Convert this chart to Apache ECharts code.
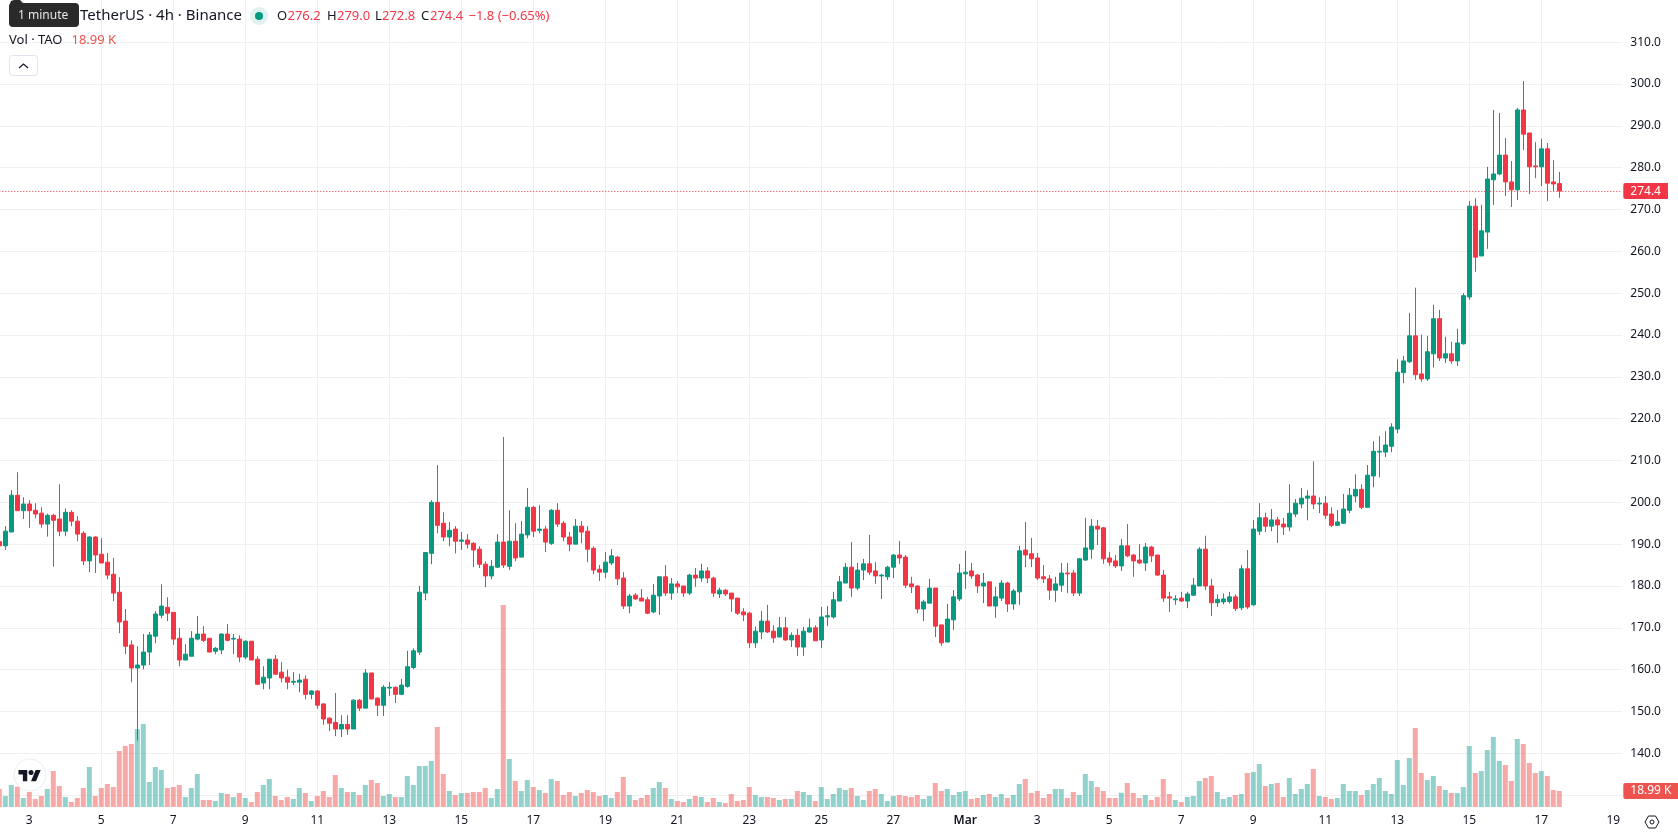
<!DOCTYPE html>
<html>
<head>
<meta charset="utf-8">
<title>TAO / TetherUS 4h</title>
<script src="https://cdn.jsdelivr.net/npm/echarts@6/dist/echarts.min.js"></script>
<style>
html,body{margin:0;padding:0;background:#fff;overflow:hidden}
#chart{width:1678px;height:835px}
</style>
</head>
<body>
<div id="chart"></div>
<script>
// 4h candles, TAO / TetherUS on Binance, oldest first
const opens = [190.6,189.6,192.9,201.7,198,199.6,198.1,197.4,194.8,196.9,196,193.1,197.6,195.5,192.6,186,191.7,187.6,185.7,182.8,178.5,171.6,165.9,160.4,161.1,164.2,168,173,174.9,173.7,167.5,162.3,163.2,167.3,168.5,167.5,164.4,164.7,168.5,167.3,167.3,163,166.8,162.5,156.8,158,162.5,159.4,158.2,157,157,157.7,154.1,154.9,151.8,148.4,147.4,145.8,146.9,145.8,152.7,150.8,159.2,153.2,151.5,155.6,155.8,154.1,156,160.5,164.2,178.3,187.8,200,195,191.7,193.6,190.7,191,190.2,188.8,185.2,182.4,184.5,190.5,184.7,190.7,186.9,192.2,198.8,193.3,193.6,190.2,198.1,195,191.7,190,194.3,193.1,189,184,183.3,185.5,186.9,181.9,175.2,177.8,177.1,176.7,173.8,177.6,182.2,178.3,180.5,180,178.3,182.6,181.9,183.6,181.9,178.1,179,178.3,177.1,173.8,173.5,166.4,169,171.6,169.2,167.8,170,167.1,168.2,165.4,169,170,167.1,172.6,172.6,176.4,180.7,184.5,179.5,183.8,185.3,183.6,182.4,182.2,184.5,187.4,186.9,180.5,180,174.5,175.9,179.5,170.7,166.6,171.9,176.9,182.9,183.6,182.6,180,181,175.2,177.1,180.7,175.7,178.6,188.6,187.7,186.7,182.2,181.7,179,180.2,183.1,183.1,178.3,186.2,188.8,194.3,193.9,186.7,186,184.8,189.6,187.4,186.2,185.5,189.3,187.4,182.6,177.4,176.7,177.1,176.4,177.8,180,188.8,180,176,176.2,176.3,177.4,174.8,184.1,175.5,193.1,196.3,194.3,195.8,194.8,194.1,197.2,199.6,201,201.5,199.6,199.8,197.2,194.5,195,198.1,201.5,203.1,198.8,206.3,212,212,213.4,217.5,231,233.6,239.8,230.7,229.5,235.5,243.9,234.5,235.5,233.8,237.9,249.1,270.8,258.9,264.6,277.1,278.5,283,276.6,274.7,293.8,288.3,280.4,280.2,284.5,276.6,276.2];
const closes = [189.6,193.1,201.7,198,199.6,198,197.2,194.8,196.9,195.7,193.1,197.6,195.5,192.4,186,191.7,187.4,185.5,182.6,178.3,171.4,165.6,160.4,161.1,164.2,168.3,173.3,175.2,173.5,167.3,162.3,163.7,167.5,168.5,167,164.2,165.1,168.5,167,167.5,163,166.8,162.3,156.5,158.2,162.5,158.9,158,157,157.2,157.5,154.1,154.9,151.5,148.2,147.2,145.8,146.9,145.8,152.7,150.8,159.2,153,151.5,155.8,155.8,154.1,156.3,160.7,164.5,178.5,188,200,194.5,191.7,193.3,190.7,191,190,188.6,185.2,182.4,184.7,190.5,185,190.7,186.7,192.4,198.8,193.1,193.6,190.5,198.1,194.8,191.7,190,194.3,192.9,188.8,183.8,183.3,185.7,187.2,181.7,175.2,177.6,176.9,176.4,173.5,177.8,182.2,178.3,180.5,179.8,178.3,182.6,181.9,183.6,181.9,178.3,179,178.1,176.9,173.5,173.1,166.4,169.2,171.6,169,167.6,170,167.1,168.2,165.4,169.2,170,166.9,172.6,172.9,176.7,181,184.5,179.5,183.8,185.3,183.3,182.4,182.6,184.5,187.4,186.7,180.2,179.8,174.5,176.2,179.5,170.4,166.4,172.1,177.4,183.1,183.3,182.4,180,180.7,175.2,177.4,180.7,175.7,178.8,188.4,187.4,186.5,181.9,181.7,179,180.5,183.1,182.9,178.3,186.5,189.1,194.3,193.6,186.5,185.7,184.8,189.6,187.2,186,185.5,189.3,187.2,182.6,177.1,177.1,176.9,176.4,178.1,180.2,188.8,180,176,176.8,176.9,177.4,174.6,184.1,175,193.6,196.3,194.3,195.8,194.6,194.1,197.4,199.8,201,201.5,199.6,199.8,196.9,194.5,195.3,198.4,201.7,203.1,198.8,206.5,212.2,212.2,213.7,218,231.1,233.8,239.8,230.5,229.5,236,243.9,234.5,235.5,233.8,238.1,249.4,270.8,258.6,264.9,277.3,278.5,283,276.6,274.7,293.8,288,280.2,280.2,284.5,276.3,276.1,274.4];
const lows = [189.4,188.6,192.9,198,196,193.9,196.2,193.9,191.8,184.6,191.9,191.9,194.3,190.7,185,183.3,183.1,185.5,181.6,176.4,168.7,163.7,157,143.1,160.1,161.1,166.3,172.3,171.6,165.9,160.8,162.3,163.2,167,166.6,164.2,163.7,163.7,166.8,163.7,161.8,162.5,162.3,156.3,155.3,155.3,158.9,157,155.3,156.3,154.6,152.9,152.9,150.6,146.8,145.3,144.1,143.9,144.4,145.8,150.1,150.8,152.9,148.9,148.9,153.7,152,153.9,155.7,160.1,163.5,176.6,185.2,192.6,190.7,189.5,187.8,188.6,189,184.5,184.3,179.7,181.6,184.3,184.3,183.8,185.9,186.9,191.4,191.7,192.6,188.1,189.8,194.1,190.7,188.3,190,190.2,185.7,182.8,181.2,181.9,185,180.2,174.5,173.5,176.7,176.4,173.3,173.5,173.1,177.6,176.7,178.3,177.4,177.8,179.8,181,180.7,177.4,177.1,177.6,173.8,173.1,171.6,165.2,165.2,167.3,168.8,166.4,167.8,166.9,165.4,163.3,163.3,168.8,166.9,165.2,170.4,172.2,176.4,180.7,177.4,179,181.4,182.6,180.5,176.9,181.4,181.9,185.3,179.5,178.3,173.5,171.6,175.9,167.8,165.7,166.6,169.5,176.4,179.3,181.7,178.3,175.9,175.2,172.4,176.4,173.8,174.3,175.5,184.5,184.5,181.4,180.7,176.7,176.2,178.6,178.3,177.6,177.6,186,186.5,189.8,185.3,184.8,184.3,183.6,186.9,182.2,185.3,183.6,185.7,182.4,176.2,173.8,175.5,176.2,174.7,177.6,180,179,172.8,175,175.6,175.8,174,174.2,174.5,175.2,192.2,192.9,193.1,190.3,192.2,193.1,196.5,198.6,195.7,198.4,197.4,196,194.1,194.3,194.8,197.4,200,198.4,198.8,203.6,206,210.8,212,216.5,228.5,233.3,229.3,228.8,229,232.2,233.8,233.3,233.1,232.6,237.7,248.4,255.1,258.9,260.6,271.1,278.2,273.2,270.6,272.3,284.2,273.7,277.5,275.6,272,274.4,272.8];
const highs = [190.8,194.3,202.9,207.2,201.2,200.5,199.8,198.8,197.3,197.2,204.3,198.5,198.1,196.7,193.1,191.9,191.9,191.4,187.9,186.7,182.1,174.5,167,165.6,168.5,169,174,180.4,177.3,173.7,169.9,166.1,169.2,172.8,170.4,167.5,165.4,168.7,170.9,168.5,168.2,167,166.8,163.2,160.8,162.5,163.5,161.8,160,159.4,159,158.6,155.1,155.1,152,148.6,154.4,149.1,149.1,152.9,153,160.1,159.2,153.4,156.3,157,156,157.8,164.5,165.1,180,188,200.5,208.9,197.6,195.3,194.3,192.9,192.4,190.5,189.5,185.9,186.2,192.4,215.6,198.1,195,195.5,203.4,199.1,199.3,194.3,198.4,199.8,195.5,192.9,196,195.5,194.3,189.5,185,188.1,188.8,187.2,183.3,178.1,178.3,179.3,177.4,180.5,182.2,185,181.9,181.2,180,182.9,184.3,185.3,184.5,182.2,179.6,179.3,178.3,177.1,174.7,173.8,170.3,174,175.5,170.6,172.6,172.6,168.9,169.8,170.2,172.2,170.6,175,175.2,178.6,182.4,185.5,190.5,185.5,186.5,192.2,185.7,182.9,184.8,187.6,190.8,187.4,182.2,180.2,176.7,181.7,179.5,170.7,175.7,179,185.3,188.4,185.5,182.9,183.1,181,179.8,181.4,181,179.3,189.6,195.3,191.5,187.9,185,182.6,182.2,185.5,185.5,183.8,186.7,196.3,196,195.8,194.1,188.1,187.4,191.2,194.8,187.6,190,190.3,189.6,187.4,183.8,178.6,177.8,178.6,178.6,181.9,189.3,192,181.7,178,178.2,178.6,178,185,188.6,195.8,199.8,197.5,198.4,196.5,196.3,204.3,200.8,203.4,202.9,209.8,201.2,201.5,198.8,198.1,202,203.4,206.7,204.3,208.9,214.6,215.8,217,218.9,234.2,235,245.3,251.3,240.1,239.8,247.2,246,239.6,238.4,241.5,250,272,272.7,271.1,280.2,293.8,293.1,287.1,281.6,294.3,300.7,288.3,286.1,286.9,285.9,281.8,279];
// Traded volume per candle, in thousands of TAO
const volumes = [21.4,13.1,26.1,24.1,10.7,17.8,9.5,13.1,21.4,42.7,24.9,11.9,5.9,10.7,22.6,47.5,13.1,22.6,27.3,23.7,66.5,72.4,74.8,92.6,98.5,29.7,47.5,43.9,22.6,23.7,26.1,11.9,22.6,39.2,8.3,8.3,7.1,16.6,15.4,11.9,16.6,10.7,5.9,17.8,26.1,33.2,13.1,8.3,11.9,9.5,22.6,16.6,7.1,13.1,19,11.9,38,22.6,17.8,17.8,14.2,26.1,32.1,28.5,13.1,15.4,11.9,11.9,36.8,26.1,48.7,48.7,54.6,95,39.2,19,14.2,16.6,16.6,17.8,17.8,22.6,10.7,21.4,239.8,57,30.9,19,32.1,23.7,20.2,16.6,33.2,30.9,14.2,17.8,13.1,16.6,20.2,17.8,13.1,14.2,10.7,17.8,35.6,14.2,8.3,10.7,14.2,22.6,29.7,22.6,9.5,7.1,5.9,9.5,13.1,11.9,5.9,10.7,5.9,4.7,15.4,7.1,8.3,23.7,14.2,11.9,11.9,10.7,8.3,9.5,9.5,19,17.8,14.2,7.1,23.7,9.5,15.4,22.6,20.2,22.6,13.1,8.3,19,21.4,15.4,7.1,13.1,14.2,13.1,11.9,14.2,9.5,13.1,28.5,19,21.4,14.2,17.8,19,9.5,10.7,14.2,15.4,11.9,15.4,10.7,14.2,27.3,33.2,16.6,19,10.7,15.4,21.4,21.4,10.7,17.8,14.2,39.2,30.9,23.7,19,10.7,10.7,17,28.5,16.6,10.7,14.2,8.3,11.9,33.2,15.4,8.3,5.9,11.9,13.1,30.9,34.4,36.8,17.8,9.5,11.9,14.2,15.4,40.4,41.5,51,24.9,27.3,28.5,11.9,34.4,15.4,21.4,27.3,45.1,13.1,11.9,9.5,10.7,27.3,19,19,14.2,20.2,27.3,34.4,19,15.4,55.8,26.1,58.2,93.8,40.4,32.1,36.8,24.9,20.2,16.6,16.6,23.7,72.4,40.4,42.7,67.7,83.1,54.6,49.9,30.9,80.7,74.8,52.2,40.4,42.7,36.8,20.2,19];
// Date labels under every second day, Feb 3 through Mar 19
const tickLabels = ['3','5','7','9','11','13','15','17','19','21','23','25','27','Mar','3','5','7','9','11','13','15','17','19'];
const firstTickSlot = 5;
const slotsPerTick = 12;
const slotCount = 271;
const lastClose = 274.4;
const lastVolume = 18.99;

const UP = '#089981', DOWN = '#f23645';
const VOL_UP = 'rgba(38,166,154,0.5)', VOL_DOWN = 'rgba(239,83,80,0.5)';
const GRID_LINE = '#f0f0f1', INK = '#131722';
const FONT = '"Noto Sans", sans-serif';

const categories = new Array(slotCount).fill('');
tickLabels.forEach((t, k) => { categories[firstTickSlot + k * slotsPerTick] = t; });
const hasTick = (i) => categories[i] !== '';

const candleData = opens.map((o, i) => [o, closes[i], lows[i], highs[i]]);
const volumeData = volumes.map((v, i) => ({
  value: v,
  itemStyle: { color: closes[i] >= opens[i] ? VOL_UP : VOL_DOWN }
}));

// Legend line and small chart furniture drawn as text and shapes
function label(x, y, text, fill, size, extra) {
  return Object.assign({
    type: 'text', x, y, z: 100, silent: true,
    style: { text, fill, font: `${size || 13}px ${FONT}`, verticalAlign: 'middle', align: 'left' }
  }, extra || {});
}
const furniture = [
  label(242, 16, 'TAO / TetherUS · 4h · Binance', INK, 15, {
    style: { text: 'TAO / TetherUS · 4h · Binance', fill: INK, font: `15px ${FONT}`, verticalAlign: 'middle', align: 'right' }
  }),
  // tooltip bubble resting over the start of the title
  { type: 'polygon', z: 101, silent: true, shape: { points: [[9, 6], [11, 1], [14, 0], [20, 0], [24, 4]] }, style: { fill: '#2a2a2a' } },
  { type: 'rect', z: 101, silent: true, shape: { x: 9, y: 3, width: 70, height: 24, r: 4 }, style: { fill: '#2a2a2a' } },
  label(18, 15.5, '1 minute', '#e6e6e6', 12, { z: 102 }),
  { type: 'circle', z: 100, silent: true, shape: { cx: 259, cy: 16, r: 9 }, style: { fill: 'rgba(8,153,129,0.13)' } },
  { type: 'circle', z: 101, silent: true, shape: { cx: 259, cy: 16, r: 4 }, style: { fill: UP } },
  label(277, 16, 'O', INK), label(287.5, 16, '276.2', DOWN),
  label(327, 16, 'H', INK), label(337, 16, '279.0', DOWN),
  label(375, 16, 'L', INK), label(382, 16, '272.8', DOWN),
  label(421, 16, 'C', INK), label(430, 16, '274.4', DOWN),
  label(468.5, 16, '−1.8 (−0.65%)', DOWN),
  label(9, 40, 'Vol · TAO', INK),
  label(71.5, 40, '18.99 K', '#ef5350'),
  { type: 'rect', z: 100, silent: true, shape: { x: 9.5, y: 55.5, width: 28, height: 20, r: 3 },
    style: { fill: '#fff', stroke: '#e0e3eb', lineWidth: 1 } },
  { type: 'polyline', z: 101, silent: true, shape: { points: [[19, 68], [23.5, 64], [28, 68]] },
    style: { stroke: INK, lineWidth: 1.2, fill: 'none' } },
  // badge in the lower left corner
  { type: 'circle', z: 100, silent: true, shape: { cx: 30, cy: 775, r: 16 },
    style: { fill: 'rgba(255,255,255,0.95)', stroke: '#eceef2', lineWidth: 1 } },
  { type: 'polygon', z: 101, silent: true,
    shape: { points: [[27.25, 781.25], [22.875, 781.25], [22.875, 774.375], [18.5, 774.375], [18.5, 770], [27.25, 770]] },
    style: { fill: INK } },
  { type: 'polygon', z: 101, silent: true,
    shape: { points: [[36, 781.25], [31, 781.25], [35.69, 770], [40.69, 770]] },
    style: { fill: INK } },
  { type: 'circle', z: 101, silent: true, shape: { cx: 31, cy: 772.5, r: 2.5 }, style: { fill: INK } },
  // axis settings glyph
  { type: 'polygon', z: 100, silent: true,
    shape: { points: [[1645, 822], [1648.5, 816], [1655.5, 816], [1659, 822], [1655.5, 828], [1648.5, 828]] },
    style: { fill: 'none', stroke: INK, lineWidth: 1 } },
  { type: 'circle', z: 101, silent: true, shape: { cx: 1652, cy: 822, r: 2 },
    style: { fill: 'none', stroke: INK, lineWidth: 1 } }
];

const chart = echarts.init(document.getElementById('chart'), null, { renderer: 'canvas' });
chart.setOption({
  animation: false,
  backgroundColor: '#ffffff',
  textStyle: { fontFamily: FONT },
  grid: [
    { left: -3.7, width: 1626, top: 0.34, height: 794.8, outerBoundsMode: 'none' },
    { left: -3.7, width: 1626, top: 0, height: 807, outerBoundsMode: 'none' }
  ],
  xAxis: [
    { type: 'category', gridIndex: 0, data: categories, boundaryGap: true, show: false },
    {
      type: 'category', gridIndex: 1, data: categories, boundaryGap: true,
      axisLine: { show: false },
      axisTick: { show: false, alignWithLabel: true, interval: (i) => hasTick(i) },
      axisLabel: {
        interval: (i) => hasTick(i), margin: 8, color: INK, fontSize: 12, fontFamily: FONT,
        formatter: (v) => (v === 'Mar' ? '{month|Mar}' : v),
        rich: { month: { fontWeight: 600, color: INK, fontSize: 12, fontFamily: FONT } }
      },
      splitLine: {
        show: true, alignWithLabel: true, interval: (i) => hasTick(i),
        showMinLine: false, showMaxLine: false,
        lineStyle: { color: GRID_LINE, width: 1 }
      }
    }
  ],
  yAxis: [
    {
      type: 'value', gridIndex: 0, position: 'right', min: 130, max: 320, interval: 10, scale: true,
      axisLine: { show: false }, axisTick: { show: false },
      axisLabel: {
        margin: 8, color: INK, fontSize: 12, fontFamily: FONT,
        formatter: (v) => (v === 130 || v === 320 ? '' : v.toFixed(1))
      },
      splitLine: { show: true, showMaxLine: false, lineStyle: { color: GRID_LINE, width: 1 } }
    },
    { type: 'value', gridIndex: 1, min: 0, max: 958, show: false, splitLine: { show: false } }
  ],
  series: [
    {
      name: 'Vol', type: 'bar', xAxisIndex: 1, yAxisIndex: 1, data: volumeData,
      barWidth: 5, z: 1, silent: true,
      markLine: {
        silent: true, symbol: 'none', animation: false,
        lineStyle: { color: 'rgba(0,0,0,0)', width: 0 },
        label: {
          show: true, position: 'end', distance: 1, formatter: lastVolume.toFixed(2) + ' K',
          color: '#ffffff', backgroundColor: '#ef5350', fontSize: 12, fontFamily: FONT,
          padding: [2, 7, 2, 7], borderRadius: [2, 0, 0, 2]
        },
        data: [{ yAxis: lastVolume }]
      }
    },
    {
      name: 'TAOUSDT', type: 'candlestick', xAxisIndex: 0, yAxisIndex: 0, data: candleData,
      barWidth: 4, z: 3, silent: true,
      itemStyle: { color: UP, color0: DOWN, borderColor: UP, borderColor0: DOWN, borderWidth: 1 },
      markLine: {
        silent: true, symbol: 'none', animation: false,
        lineStyle: { color: DOWN, type: [1, 2], width: 1 },
        label: {
          show: true, position: 'end', distance: 1, formatter: lastClose.toFixed(1),
          color: '#ffffff', backgroundColor: DOWN, fontSize: 12, fontFamily: FONT,
          padding: [2, 7, 2, 7], borderRadius: [2, 0, 0, 2]
        },
        data: [{ yAxis: lastClose }]
      }
    }
  ],
  graphic: { elements: furniture }
});
</script>
</body>
</html>
